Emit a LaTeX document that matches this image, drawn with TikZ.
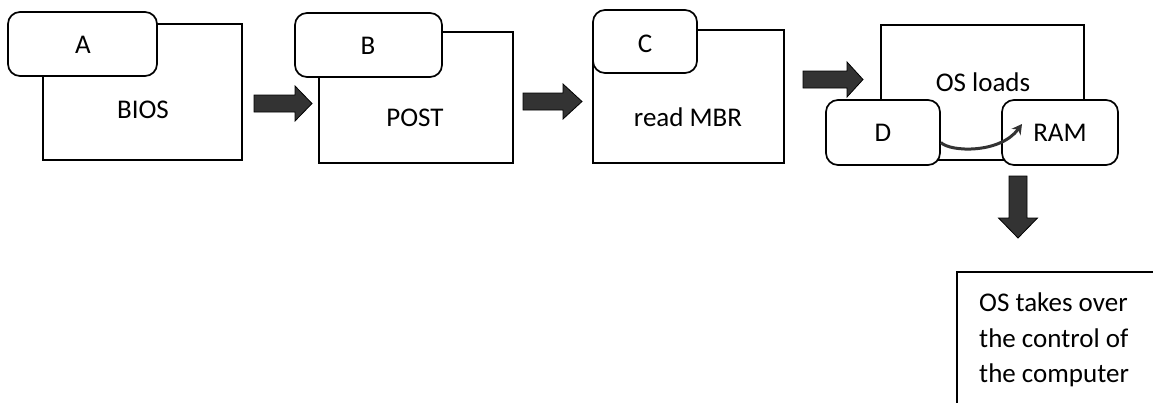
\documentclass[tikz,border=0pt]{standalone}
\usepackage{fontspec}
\setmainfont{Carlito}
\usetikzlibrary{arrows.meta}
\newcommand{\fatR}[4]{% x1, x2, xhead, yc
  \draw[fatarrow] (#1,#4-8.5) -- (#3,#4-8.5) -- (#3,#4-17.5) -- (#2,#4) -- (#3,#4+17.5) -- (#3,#4+8.5) -- (#1,#4+8.5) -- cycle;}
\newcommand{\fatD}[4]{% y1, y2, yhead, xc
  \draw[fatarrow] (#4-9,#1) -- (#4-9,#3) -- (#4-19.5,#3) -- (#4,#2) -- (#4+19.5,#3) -- (#4+9,#3) -- (#4+9,#1) -- cycle;}
\begin{document}
\begin{tikzpicture}[x=1pt,y=-1pt,
  every node/.style={font=\fontsize{27}{32}\selectfont},
  stagebox/.style={draw=black,line width=1.7pt,fill=white,inner sep=0pt},
  tagbox/.style={draw=black,line width=1.7pt,fill=white,rounded corners=12pt,inner sep=0pt},
  lbl/.style={anchor=base,inner sep=0pt},
  fatarrow/.style={draw=black,line width=0.8pt,fill=black!80},
  curvearrow/.style={draw=black!80,line width=3pt,-{Stealth[length=10pt,width=11pt]}}]
\clip (0,0) rectangle (1153,402);
\fill[white] (0,0) rectangle (1153,402);
% stage rectangles
\node[stagebox,minimum width=199pt,minimum height=136pt] (bios) at (142.5,92) {};
\node[stagebox,minimum width=194pt,minimum height=131pt] (post) at (416,97.5) {};
\node[stagebox,minimum width=191pt,minimum height=133pt] (mbr) at (688.5,96.5) {};
\node[stagebox,minimum width=203pt,minimum height=135pt] (os) at (982.5,92.5) {};
% tag boxes
\node[tagbox,minimum width=149pt,minimum height=64pt] (A) at (82.5,44) {};
\node[tagbox,minimum width=147pt,minimum height=64pt] (B) at (368.5,45) {};
\node[tagbox,minimum width=104pt,minimum height=63pt] (C) at (645,41.5) {};
\node[tagbox,minimum width=114pt,minimum height=65pt] (D) at (883,132.5) {};
\node[tagbox,minimum width=116pt,minimum height=65pt] (ram) at (1060,132.5) {};
% labels
\node[lbl] (tA) at (83,53) {A};
\node[lbl] (tB) at (368,54) {B};
\node[lbl] (tC) at (645,52) {C};
\node[lbl] (tbios) at (143,118) {BIOS};
\node[lbl] (tpost) at (415,126) {POST};
\node[lbl] (tmbr) at (688,126) {read MBR};
\node[lbl] (tos) at (983,91) {OS loads};
\node[lbl] (tD) at (883,141) {D};
\node[lbl] (tram) at (1060,141) {RAM};
% final box
\draw[line width=1.7pt] (957,415) -- (957,272) -- (1170,272);
\node[anchor=base west,inner sep=0pt] (t1) at (979,311) {OS takes over};
\node[anchor=base west,inner sep=0pt] (t2) at (979,347) {the control of};
\node[anchor=base west,inner sep=0pt] (t3) at (979,382) {the computer};
% fat arrows
\fatR{254}{312}{295}{103.5}
\fatR{523}{582}{563}{101.5}
\fatR{803}{863}{847}{79.5}
\fatD{176}{238}{218}{1018}
% curved arrow D -> RAM
\coordinate (cs) at ([yshift=-10pt]D.east);
\coordinate (ce) at (1022,124);
\draw[curvearrow] (cs) .. controls (950,152) and (1000,154) .. (ce);
\end{tikzpicture}
\end{document}
